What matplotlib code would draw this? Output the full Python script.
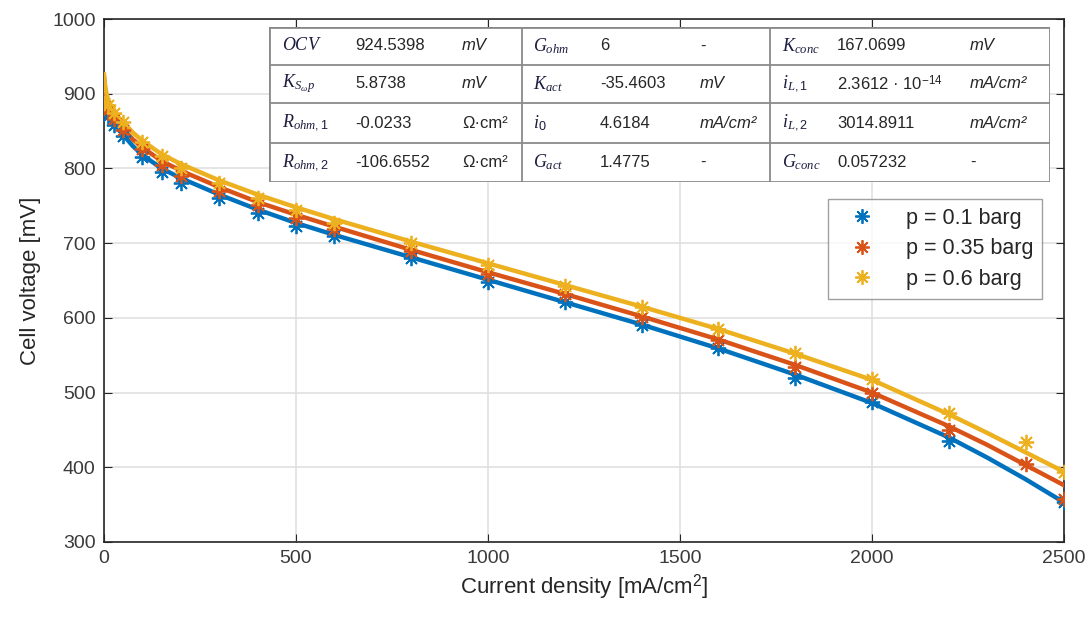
import matplotlib
matplotlib.use('Agg')
import matplotlib.pyplot as plt

plt.rcParams['font.family'] = ['Liberation Sans', 'DejaVu Sans']
plt.rcParams['mathtext.fontset'] = 'custom'
plt.rcParams['mathtext.rm'] = 'Liberation Sans'
plt.rcParams['mathtext.it'] = 'Liberation Serif:italic'

# measured points
i_meas = [0, 10, 25, 50, 100, 150, 200, 300, 400, 500, 600, 800, 1000,
          1200, 1400, 1600, 1800, 2000, 2200, 2400, 2500]
v_p010 = [878, 870, 858, 843, 815, 795, 780, 760, 740, 723, 710, 680, 648,
          621, 591, 560, 520, 487, 435, None, 353]
v_p035 = [883, 878, 866, 852, 826, 805, 790, 770, 751, 734, 719, 689, 659,
          632, 601, 570, 534, 499, 450, 404, 358]
v_p060 = [888, 885, 874, 862, 836, 817, 801, 781, 760, 745, 727, 700, 671,
          643, 614, 585, 553, 518, 473, 434, 394]

# model fit curves
i_fit = [0, 2, 5, 10, 20, 35, 50, 75, 100, 150, 200, 300, 400, 500, 600, 800,
         1000, 1200, 1400, 1600, 1800, 2000, 2200, 2300, 2400, 2500]
f_p010 = [918, 905, 893, 880, 866, 854, 845, 830, 818, 800, 787, 765, 745, 727,
          711, 681, 651, 621, 591, 559, 524, 486, 440, 413, 384, 353]
f_p035 = [922, 910, 899, 887, 874, 862, 853, 839, 828, 810, 797, 775, 755, 738,
          722, 691, 661, 632, 602, 571, 537, 500, 455, 430, 403, 376]
f_p060 = [926, 915, 904, 893, 881, 870, 862, 848, 837, 819, 806, 784, 765, 748,
          732, 702, 673, 644, 615, 585, 552, 517, 471, 446, 420, 394]

labels = ['p = 0.1 barg', 'p = 0.35 barg', 'p = 0.6 barg']
colors = ['#0072BD', '#D95319', '#EDB120']

# parameter table: (symbol, value, unit) per cell, 4 rows x 3 groups
table_rows = [
    [(r'$OCV$', '924.5398', 'mV'), (r'$G_{ohm}$', '6', '-'), (r'$K_{conc}$', '167.0699', 'mV')],
    [(r'$K_{S_\omega p}$', '5.8738', 'mV'), (r'$K_{act}$', '-35.4603', 'mV'), (r'$i_{L,1}$', '2.3612 · 10$^{-14}$', 'mA/cm²')],
    [(r'$R_{ohm,1}$', '-0.0233', 'Ω·cm²'), (r'$i_0$', '4.6184', 'mA/cm²'), (r'$i_{L,2}$', '3014.8911', 'mA/cm²')],
    [(r'$R_{ohm,2}$', '-106.6552', 'Ω·cm²'), (r'$G_{act}$', '1.4775', '-'), (r'$G_{conc}$', '0.057232', '-')],
]

W, H = 1089, 622
fig = plt.figure(figsize=(W / 100, H / 100), dpi=100)
ax = fig.add_axes([104 / W, 1 - 542 / H, 960 / W, 523 / H])

for f, c in zip([f_p010, f_p035, f_p060], colors):
    ax.plot(i_fit, f, '-', color=c, lw=3.2, zorder=3)

ast = (8, 2, 0)
for v, c, lab in zip([v_p010, v_p035, v_p060], colors, labels):
    xs = [x for x, y in zip(i_meas, v) if y is not None]
    ys = [y for y in v if y is not None]
    ax.plot(xs, ys, ls='none', marker=ast, ms=11, mew=1.3, color=c, label=lab, zorder=4)

ax.set_xlim(0, 2500)
ax.set_ylim(300, 1000)
ax.set_xticks(range(0, 2501, 500))
ax.set_yticks(range(300, 1001, 100))
ax.grid(True, color='#e0e0e0', lw=1.2)
ax.set_axisbelow(True)
ax.tick_params(direction='in', length=6, labelsize=14, colors='#262626',
               labelcolor='#3a3a3a', top=True, right=True, pad=6)
for s in ax.spines.values():
    s.set_color('#262626')
    s.set_linewidth(1.2)
ax.set_xlabel('Current density [mA/cm$^2$]', fontsize=16, color='#262626', labelpad=4)
ax.set_ylabel('Cell voltage [mV]', fontsize=16, color='#262626', labelpad=8)

leg = ax.legend(loc='upper left', bbox_to_anchor=((828 - 104) / 960, (542 - 199) / 523),
                borderaxespad=0, fontsize=15.5, frameon=True, fancybox=False,
                handletextpad=0.8, borderpad=0.4, labelspacing=0.45,
                handlelength=2.4, markerscale=0.95)
leg.get_frame().set_edgecolor('#888888')
leg.get_frame().set_linewidth(1.0)
for t in leg.get_texts():
    t.set_color('#262626')

# parameter table drawn in its own axes, pixel coordinates
tx0, tx1, ty0, ty1 = 269, 1050, 27, 182
tab = fig.add_axes([tx0 / W, 1 - ty1 / H, (tx1 - tx0) / W, (ty1 - ty0) / H])
tab.set_xlim(tx0, tx1)
tab.set_ylim(ty1, ty0)
tab.axis('off')
tab.add_patch(plt.Rectangle((tx0, ty0), tx1 - tx0, ty1 - ty0, fc='white',
                            ec='#8a8a8a', lw=2))
row_y = [27, 65, 103, 143, 182]
for y in row_y[1:-1]:
    tab.plot([tx0, tx1], [y, y], color='#8a8a8a', lw=1.3)
for x in [522, 770]:
    tab.plot([x, x], [ty0, ty1], color='#8a8a8a', lw=1.3)
col_x = [(282, 355, 462), (533, 600, 700), (782, 837, 970)]
for r, row in enumerate(table_rows):
    yc = (row_y[r] + row_y[r + 1]) / 2
    for (sym, val, unit), (xs, xv, xu) in zip(row, col_x):
        tab.text(xs, yc, sym, fontsize=13, color='#1c1c40', va='center', ha='left')
        tab.text(xv, yc, val, fontsize=12, color='#262626', va='center', ha='left')
        ustyle = 'italic' if unit in ('mV', 'mA/cm²') else 'normal'
        tab.text(xu, yc, unit, fontsize=12, color='#262626', va='center', ha='left',
                 style=ustyle)

fig.savefig('out.png', dpi=100)
